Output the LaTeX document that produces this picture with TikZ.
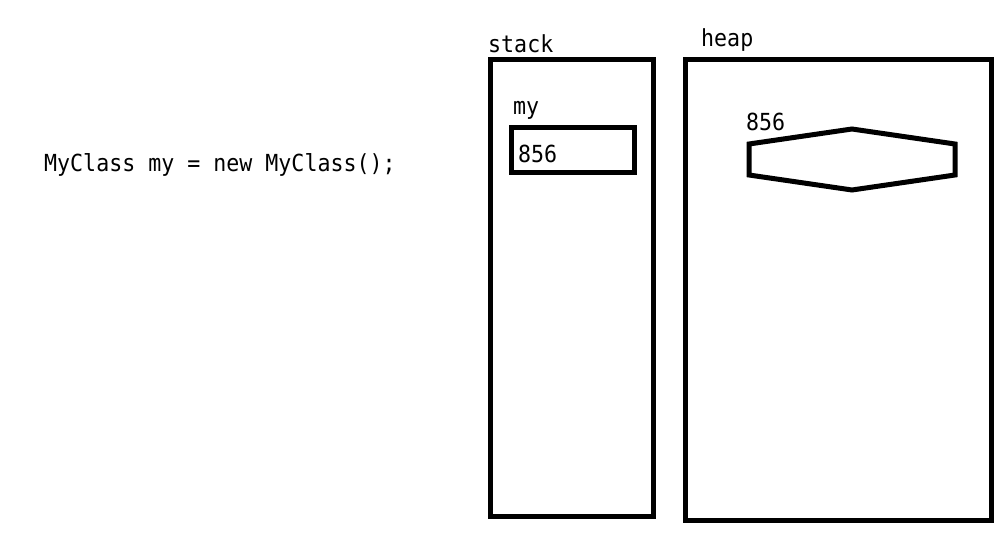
\documentclass[tikz,border=0pt]{standalone}
\usepackage{fontspec}
\setmainfont{DejaVu Sans Mono}[FakeStretch=0.92]
\begin{document}
\begin{tikzpicture}[x=1pt,y=-1pt,
  box/.style={draw, line width=5pt, inner sep=0pt},
  lbl/.style={inner sep=0pt, anchor=base west, font=\fontsize{23.5}{27}\selectfont}]
\useasboundingbox (0,0) rectangle (1007,537);
% frames
\node[box, minimum width=162.5pt, minimum height=456pt] (stack) at (571.75,288) {};
\node[box, minimum width=306pt, minimum height=460.5pt] (heap) at (838,290.25) {};
\node[box, minimum width=123pt, minimum height=44.5pt] (mybox) at (572.5,150.25) {};
% object in heap
\draw[line width=5pt] (749,144) -- (852,129) -- (955,144) -- (955,175) -- (852,190) -- (749,175) -- cycle;
% labels
\node[lbl] (code) at (44,171.7) {MyClass my = new MyClass();};
\node[lbl] (stacklbl) at (488,52.3) {stack};
\node[lbl] (heaplbl) at (701,46.7) {heap};
\node[lbl] (mylbl) at (513,115) {my};
\node[lbl] (myval) at (518,163) {856};
\node[lbl] (objaddr) at (746,131) {856};
\end{tikzpicture}
\end{document}
